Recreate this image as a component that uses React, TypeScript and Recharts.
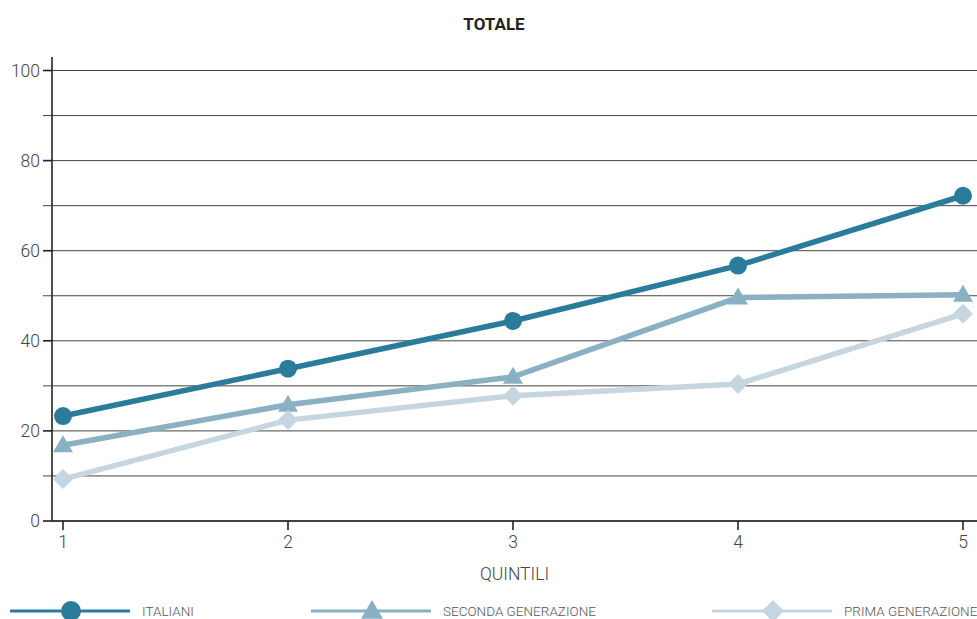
import React from "react";
import { LineChart, Line, XAxis, YAxis, CartesianGrid, Legend } from "recharts";

const quintili = [1, 2, 3, 4, 5];
const italiani = [23.3, 33.8, 44.4, 56.7, 72.2];
const secondaGen = [16.8, 25.8, 32.0, 49.6, 50.2];
const primaGen = [9.3, 22.4, 27.8, 30.4, 46.0];

const yTicks = [0, 10, 20, 30, 40, 50, 60, 70, 80, 90, 100];

const series = [
  { key: "italiani", name: "ITALIANI", color: "#2b7b9a", shape: "circle" },
  { key: "seconda", name: "SECONDA GENERAZIONE", color: "#89b0c3", shape: "triangle" },
  { key: "prima", name: "PRIMA GENERAZIONE", color: "#c6d6e1", shape: "diamond" },
];

const data = quintili.map((q, i) => ({
  q,
  italiani: italiani[i],
  seconda: secondaGen[i],
  prima: primaGen[i],
}));

const FONT = "Roboto, 'Noto Sans', sans-serif";

function Marker({ cx, cy, shape, color, size = 10 }: any) {
  if (cx == null || cy == null) return null;
  if (shape === "circle") return <circle cx={cx} cy={cy} r={size - 1} fill={color} />;
  if (shape === "triangle")
    return (
      <polygon
        points={`${cx},${cy - size} ${cx + size},${cy + size * 0.7} ${cx - size},${cy + size * 0.7}`}
        fill={color}
      />
    );
  return (
    <polygon
      points={`${cx},${cy - size} ${cx + size},${cy} ${cx},${cy + size} ${cx - size},${cy}`}
      fill={color}
    />
  );
}

function YTick({ x, y, payload }: any) {
  const v = payload.value;
  const major = v % 20 === 0;
  return (
    <g>
      <line x1={x + 4} x2={x + 13} y1={y} y2={y} stroke={major ? "#222" : "#444"} strokeWidth={major ? 1.6 : 1} />
      {major && (
        <text x={x + 1} y={y} dy={6} textAnchor="end" fontSize={17.5} fontWeight={300} fill="#444" fontFamily={FONT}>
          {v}
        </text>
      )}
    </g>
  );
}

function LegendBox() {
  const xs = [10, 311, 712];
  return (
    <svg width={977} height={24} style={{ display: "block" }}>
      {series.map((s, i) => (
        <g key={s.key}>
          <line x1={xs[i]} x2={xs[i] + 120} y1={15} y2={15} stroke={s.color} strokeWidth={3} />
          <Marker cx={xs[i] + 61} cy={15} shape={s.shape} color={s.color} size={11} />
          <text x={xs[i] + 132} y={20} fontSize={13.5} fontWeight={300} fill="#555" fontFamily={FONT}>
            {s.name}
          </text>
        </g>
      ))}
    </svg>
  );
}

export default function App() {
  return (
    <div style={{ position: "absolute", left: 0, top: 0, width: 977, height: 619, background: "#fff", overflow: "hidden" }}>
      <div
        style={{
          position: "absolute",
          left: 0,
          width: 988,
          top: 14,
          textAlign: "center",
          fontFamily: FONT,
          fontWeight: 700,
          fontSize: 17,
          color: "#222",
        }}
      >
        TOTALE
      </div>
      <LineChart width={977} height={619} data={data} margin={{ top: 57, right: 0, left: 0, bottom: 0 }}>
        <CartesianGrid vertical={false} stroke="#444" strokeWidth={1} horizontalValues={yTicks} />
        <XAxis
          dataKey="q"
          type="number"
          domain={[1, 5]}
          ticks={quintili}
          padding={{ left: 11, right: 14 }}
          height={98}
          stroke="#222"
          strokeWidth={1.6}
          tickSize={9}
          tickMargin={6}
          tick={{ fontSize: 17.5, fontWeight: 300, fill: "#444", fontFamily: FONT }}
          label={{ value: "QUINTILI", position: "insideTop", offset: 47, fontSize: 17.5, fontWeight: 300, fill: "#444", fontFamily: FONT }}
        />
        <YAxis
          domain={[0, 103]}
          ticks={yTicks}
          width={52}
          stroke="#222"
          strokeWidth={1.6}
          tickSize={9}
          tickMargin={4}
          tickLine={false}
          tick={<YTick />}
          interval={0}
        />
        {series.map((s) => (
          <Line
            key={s.key}
            dataKey={s.key}
            name={s.name}
            stroke={s.color}
            strokeWidth={5.5}
            isAnimationActive={false}
            dot={(p: any) => <Marker key={`${s.key}-${p.index}`} cx={p.cx} cy={p.cy} shape={s.shape} color={s.color} />}
            activeDot={false}
          />
        ))}
        <Legend
          layout="horizontal"
          verticalAlign="middle"
          align="center"
          content={() => <LegendBox />}
          wrapperStyle={{ position: "absolute", left: 0, top: 596, width: 977, height: 24 }}
        />
      </LineChart>
    </div>
  );
}
